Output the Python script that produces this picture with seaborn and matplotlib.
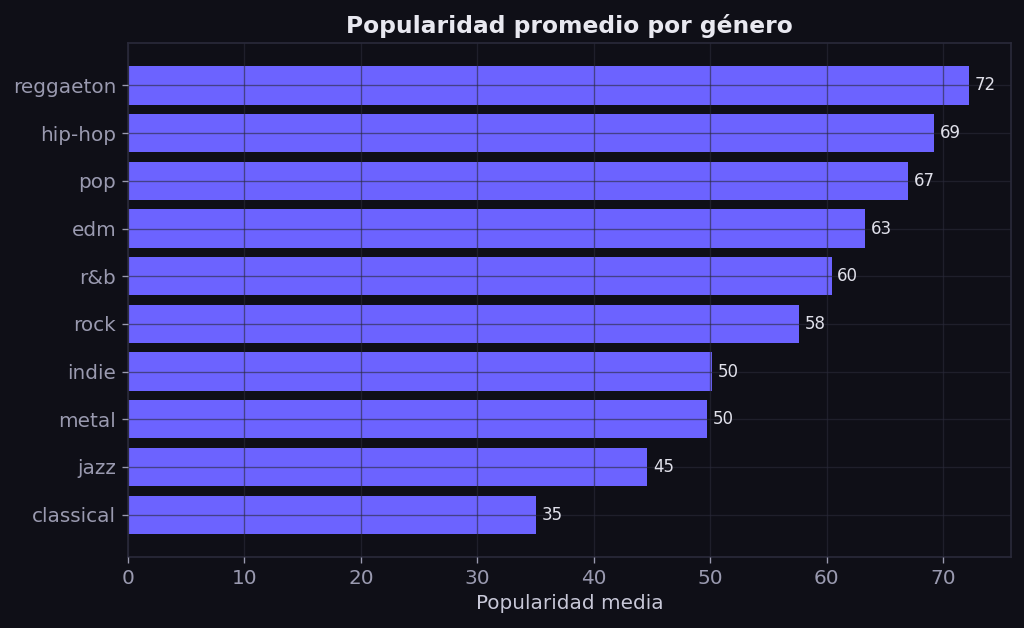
import matplotlib
matplotlib.use("Agg")
import matplotlib.pyplot as plt
import seaborn as sns
import pandas as pd

genres = ["reggaeton", "hip-hop", "pop", "edm", "r&b", "rock", "indie", "metal", "jazz", "classical"]
popularity = [72.2, 69.2, 67.0, 63.3, 60.4, 57.6, 50.1, 49.7, 44.6, 35.0]

BG = "#0f0f17"
BAR = "#6c63ff"
TICK = "#9a9ab0"
SPINE = "#2a2a3a"

plt.rcParams["font.family"] = ["DejaVu Sans"]

df = pd.DataFrame({"genre": genres, "pop": popularity})

fig, ax = plt.subplots(figsize=(1024 / 120, 628 / 120), dpi=120)
fig.patch.set_facecolor(BG)
ax.set_facecolor(BG)

sns.barplot(data=df, x="pop", y="genre", color=BAR, saturation=1, width=0.8,
            ax=ax, orient="h", linewidth=0, edgecolor="none")

ax.set_axisbelow(False)
ax.grid(True, color="#2a2a3a", linewidth=0.8, alpha=0.6)
n = len(genres)
ax.set_ylim(n - 1 + 0.4 + 0.49, -0.4 - 0.49)
ax.set_xlim(0, max(popularity) * 1.05)

for i, v in enumerate(popularity):
    ax.text(v + 0.5, i, f"{v:.0f}", va="center", ha="left", color="#e0e0ea", fontsize=10)

ax.set_title("Popularidad promedio por género", color="#e8e8f0", fontsize=14, fontweight="bold")
ax.set_xlabel("Popularidad media", color="#c8c8d8", fontsize=12)
ax.set_ylabel("")
ax.tick_params(axis="both", colors=TICK, labelsize=12, length=3.5, width=0.8, left=True, bottom=True)
for s in ax.spines.values():
    s.set_color(SPINE)
    s.set_linewidth(1)
    s.set_visible(True)

fig.subplots_adjust(left=0.125, right=0.9873, top=0.9315, bottom=0.113)
fig.savefig("out.png", dpi=120, facecolor=BG)
